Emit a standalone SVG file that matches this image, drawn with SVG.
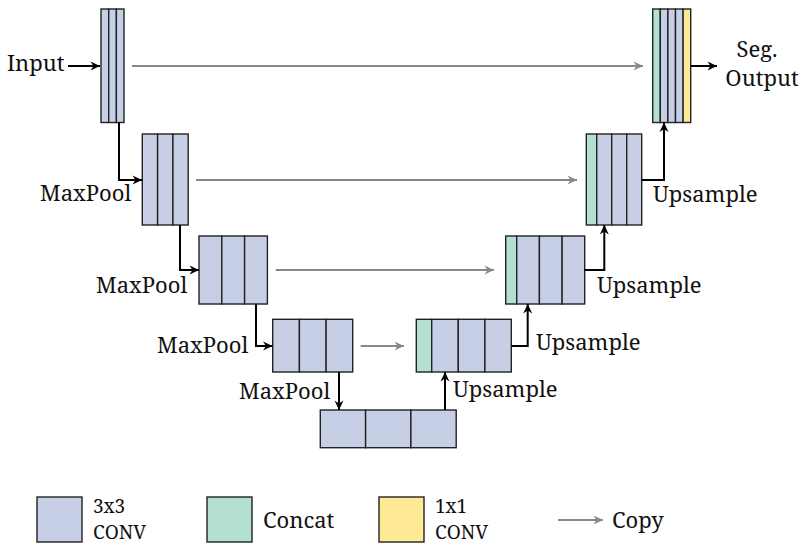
<svg xmlns="http://www.w3.org/2000/svg" width="804" height="545" viewBox="0 0 804 545">
<style>
.b{fill:#c7cfe7;stroke:#222;stroke-width:1.4}
.g{fill:#b3e0d3;stroke:#222;stroke-width:1.4}
.y{fill:#fee994;stroke:#222;stroke-width:1.4}
.k{fill:none;stroke:#000;stroke-width:2;marker-end:url(#ak)}
.c{fill:none;stroke:#888;stroke-width:2;marker-end:url(#ag)}
text{font-family:"Noto Serif","Liberation Serif",serif;font-size:22px;fill:#111}
text.s{font-size:19px}
</style>
<defs>
<marker id="ak" markerUnits="userSpaceOnUse" markerWidth="14" markerHeight="12" refX="10" refY="6" orient="auto" viewBox="0 0 14 12">
<path d="M10,6 L0.5,1.5 L3.5,6 L0.5,10.5 Z" fill="#000"/>
</marker>
<marker id="ag" markerUnits="userSpaceOnUse" markerWidth="14" markerHeight="12" refX="10" refY="6" orient="auto" viewBox="0 0 14 12">
<path d="M10,6 L0.5,1.5 L3.5,6 L0.5,10.5 Z" fill="#888"/>
</marker>
</defs>

<g id="enc1">
<rect class="b" x="101" y="9" width="7.7" height="113.5"/>
<rect class="b" x="108.7" y="9" width="7.7" height="113.5"/>
<rect class="b" x="116.4" y="9" width="7.6" height="113.5"/>
</g>
<g id="enc2">
<rect class="b" x="142.3" y="134" width="15.3" height="91"/>
<rect class="b" x="157.6" y="134" width="15.3" height="91"/>
<rect class="b" x="172.9" y="134" width="15.3" height="91"/>
</g>
<g id="enc3">
<rect class="b" x="199" y="236" width="22.8" height="68"/>
<rect class="b" x="221.8" y="236" width="22.8" height="68"/>
<rect class="b" x="244.6" y="236" width="22.8" height="68"/>
</g>
<g id="enc4">
<rect class="b" x="272.7" y="319.3" width="26.7" height="52.7"/>
<rect class="b" x="299.4" y="319.3" width="26.7" height="52.7"/>
<rect class="b" x="326.1" y="319.3" width="26.6" height="52.7"/>
</g>
<g id="bottleneck">
<rect class="b" x="320.3" y="410" width="45.3" height="37.7"/>
<rect class="b" x="365.6" y="410" width="45.3" height="37.7"/>
<rect class="b" x="410.9" y="410" width="45.3" height="37.7"/>
</g>
<g id="dec4">
<rect class="g" x="416.3" y="319.3" width="15.4" height="52.7"/>
<rect class="b" x="431.7" y="319.3" width="26.6" height="52.7"/>
<rect class="b" x="458.3" y="319.3" width="26.6" height="52.7"/>
<rect class="b" x="484.9" y="319.3" width="26.4" height="52.7"/>
</g>
<g id="dec3">
<rect class="g" x="505.7" y="236" width="11" height="68"/>
<rect class="b" x="516.7" y="236" width="22.7" height="68"/>
<rect class="b" x="539.4" y="236" width="22.7" height="68"/>
<rect class="b" x="562.1" y="236" width="22.6" height="68"/>
</g>
<g id="dec2">
<rect class="g" x="586.3" y="134" width="10.4" height="91"/>
<rect class="b" x="596.7" y="134" width="15" height="91"/>
<rect class="b" x="611.7" y="134" width="15" height="91"/>
<rect class="b" x="626.7" y="134" width="15" height="91"/>
</g>
<g id="dec1">
<rect class="g" x="652.7" y="9" width="7.6" height="113.5"/>
<rect class="b" x="660.3" y="9" width="7.6" height="113.5"/>
<rect class="b" x="667.9" y="9" width="7.6" height="113.5"/>
<rect class="b" x="675.5" y="9" width="7.6" height="113.5"/>
<rect class="y" x="683.1" y="9" width="7.6" height="113.5"/>
</g>

<g id="connectors">
<path class="k" d="M68,66 H100"/>
<path class="k" d="M691,66 H717"/>
<path class="k" d="M119,122.5 V180 H142"/>
<path class="k" d="M180,225 V270 H199"/>
<path class="k" d="M256,304 V346 H272.5"/>
<path class="k" d="M339,372 V410"/>
<path class="k" d="M445,410 V372"/>
<path class="k" d="M511.3,346 H527.7 V304"/>
<path class="k" d="M584.7,270 H604.3 V225"/>
<path class="k" d="M641.7,180 H664 V122.5"/>
<path class="c" d="M132,66 H643"/>
<path class="c" d="M196,180 H577"/>
<path class="c" d="M275.7,270 H494"/>
<path class="c" d="M360.7,346 H404"/>
</g>

<g id="labels">
<text x="7" y="71">Input</text>
<text text-anchor="middle"><tspan x="757" y="57">Seg.</tspan><tspan x="762" y="86">Output</tspan></text>
<text x="40" y="201">MaxPool</text>
<text x="96" y="293">MaxPool</text>
<text x="157" y="353">MaxPool</text>
<text x="239" y="399">MaxPool</text>
<text x="653" y="202">Upsample</text>
<text x="597" y="293">Upsample</text>
<text x="536" y="350">Upsample</text>
<text x="453" y="397">Upsample</text>
</g>

<g id="legend">
<rect class="b" x="37" y="497" width="45" height="45"/>
<text class="s" x="93" y="513">3x3</text>
<text class="s" x="93" y="539">CONV</text>
<rect class="g" x="207" y="497" width="45" height="45"/>
<text x="263" y="528">Concat</text>
<rect class="y" x="379" y="497" width="45" height="45"/>
<text class="s" x="435" y="513">1x1</text>
<text class="s" x="435" y="539">CONV</text>
<path class="c" d="M558,520 H603"/>
<text x="612" y="528">Copy</text>
</g>
</svg>
